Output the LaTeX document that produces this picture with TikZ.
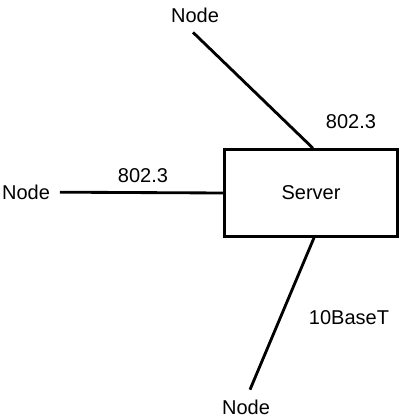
\documentclass[tikz,border=0pt]{standalone}
\usepackage{fontspec}
\setmainfont{Liberation Sans}
\usetikzlibrary{calc}
\begin{document}
\begin{tikzpicture}[x=0.6pt,y=-0.6pt,every node/.style={font=\fontsize{12}{14}\selectfont}]
\tikzstyle{link}=[draw,line width=1.7pt]
\tikzstyle{host}=[inner sep=2pt,outer sep=4pt]
\useasboundingbox (0,0) rectangle (400,420);
\node[draw,line width=1.7pt,minimum width=104pt,minimum height=52pt](server) at (311,193){Server};

\node[host](ntop) at (195,15){Node};
\node[host](nleft) at (26,192){Node};
\node[host](nbot) at (246,407){Node};

\node(ltop) at (351,122){802.3};
\node(lleft) at (143,176){802.3};
\node(lbot) at (349,318){10BaseT};

\path[link]($(ntop.south)+(-2,0)$)--($(server.north)+(2,0)$);
\path[link](nleft)--(server.west);
\path[link]($(nbot.north)+(4,0)$)--($(server.south)+(3,0)$);
\end{tikzpicture}
\end{document}
